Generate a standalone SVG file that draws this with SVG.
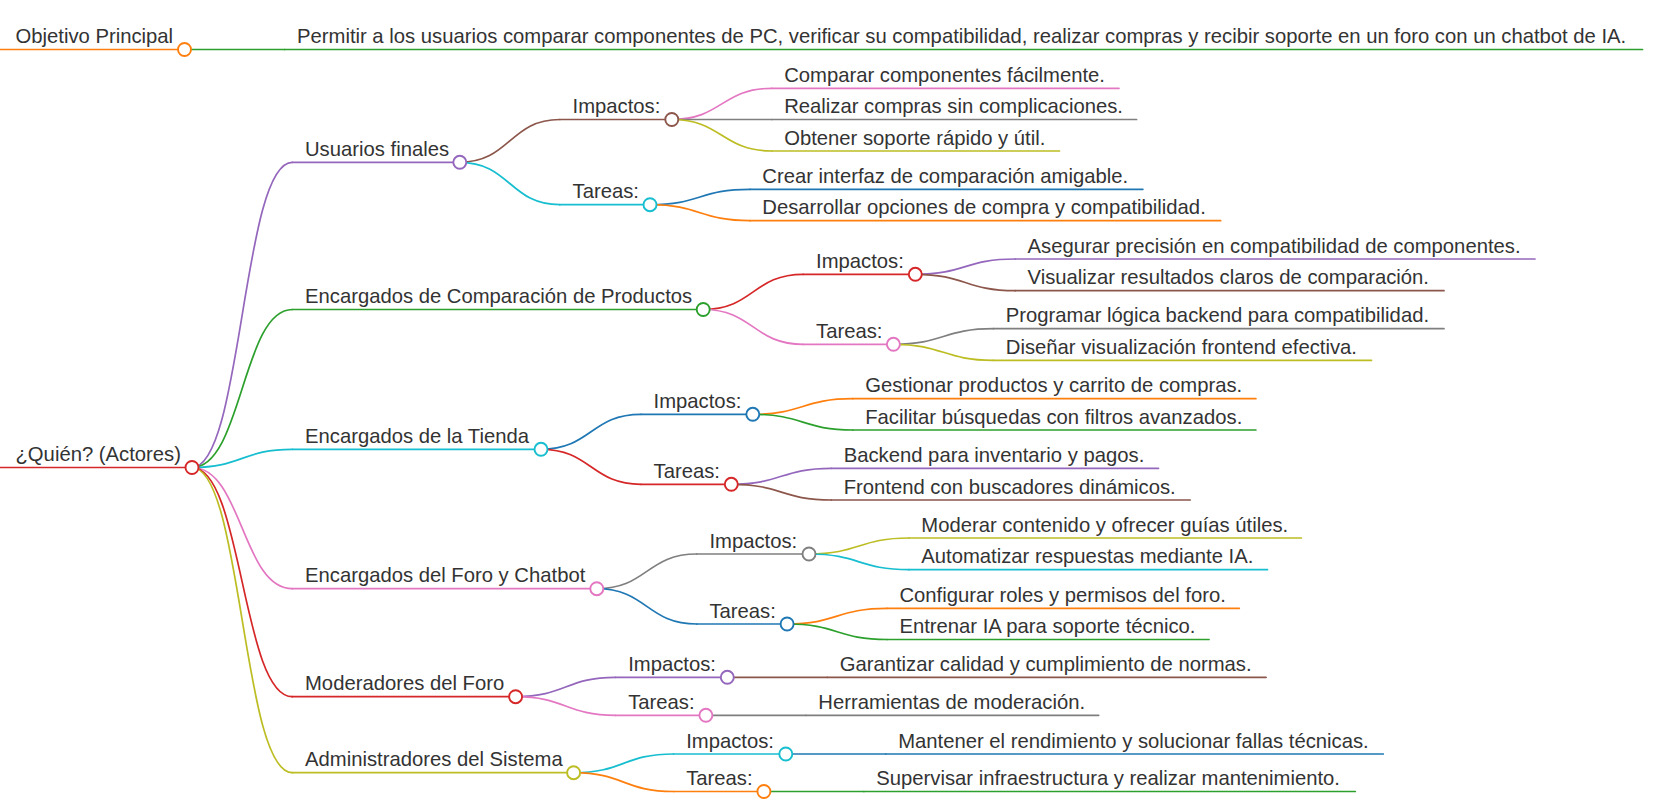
<svg xmlns="http://www.w3.org/2000/svg" width="1653" height="812" viewBox="0 0 1653 812">
<style>
text{font-family:"Liberation Sans",Arial,sans-serif;font-size:20.25px;fill:#333}
path,line{fill:none;stroke-width:1.7;stroke-linecap:round}
circle{fill:#fff;stroke-width:1.9}
.blue{stroke:#1f77b4}.orange{stroke:#ff7f0e}.green{stroke:#2ca02c}.red{stroke:#d62728}.purple{stroke:#9467bd}
.brown{stroke:#8c564b}.pink{stroke:#e377c2}.gray{stroke:#7f7f7f}.olive{stroke:#bcbd22}.cyan{stroke:#17becf}
</style>
<rect width="1653" height="812" fill="#fff"/>
<g id="connectors">
<path class="green" d="M184.5 49.5 L284.5 49.5"/>
<path class="purple" d="M192 467.5 C242.2 467.5 242.2 162.3 292.3 162.3"/>
<path class="green" d="M192 467.5 C242.2 467.5 242.2 309.5 292.3 309.5"/>
<path class="cyan" d="M192 467.5 C242.2 467.5 242.2 449.3 292.3 449.3"/>
<path class="pink" d="M192 467.5 C242.2 467.5 242.2 588.7 292.3 588.7"/>
<path class="red" d="M192 467.5 C242.2 467.5 242.2 696.7 292.3 696.7"/>
<path class="olive" d="M192 467.5 C242.2 467.5 242.2 772.7 292.3 772.7"/>
<path class="brown" d="M459.8 162.3 C509.8 162.3 509.8 119.5 559.8 119.5"/>
<path class="cyan" d="M459.8 162.3 C509.8 162.3 509.8 204.7 559.8 204.7"/>
<path class="red" d="M703.2 309.5 C753.2 309.5 753.2 274.3 803.2 274.3"/>
<path class="pink" d="M703.2 309.5 C753.2 309.5 753.2 344.3 803.2 344.3"/>
<path class="blue" d="M541 449.3 C591 449.3 591 414.3 641 414.3"/>
<path class="red" d="M541 449.3 C591 449.3 591 484.3 641 484.3"/>
<path class="gray" d="M596.8 588.7 C646.8 588.7 646.8 554 696.8 554"/>
<path class="blue" d="M596.8 588.7 C646.8 588.7 646.8 624 696.8 624"/>
<path class="purple" d="M515.6 696.7 C565.6 696.7 565.6 677.3 615.6 677.3"/>
<path class="pink" d="M515.6 696.7 C565.6 696.7 565.6 715.3 615.6 715.3"/>
<path class="cyan" d="M573.6 772.7 C623.6 772.7 623.6 754 673.6 754"/>
<path class="orange" d="M573.6 772.7 C623.6 772.7 623.6 791.5 673.6 791.5"/>
<path class="pink" d="M671.8 119.5 C721.8 119.5 721.8 88.3 771.8 88.3"/>
<path class="gray" d="M671.8 119.5 L771.8 119.5"/>
<path class="olive" d="M671.8 119.5 C721.8 119.5 721.8 151 771.8 151"/>
<path class="blue" d="M650 204.7 C700 204.7 700 189.3 750 189.3"/>
<path class="orange" d="M650 204.7 C700 204.7 700 220.7 750 220.7"/>
<path class="purple" d="M915.3 274.3 C965.3 274.3 965.3 259 1015.3 259"/>
<path class="brown" d="M915.3 274.3 C965.3 274.3 965.3 290.7 1015.3 290.7"/>
<path class="gray" d="M893.4 344.3 C943.4 344.3 943.4 328.7 993.4 328.7"/>
<path class="olive" d="M893.4 344.3 C943.4 344.3 943.4 360.3 993.4 360.3"/>
<path class="orange" d="M752.8 414.3 C802.8 414.3 802.8 398.7 852.8 398.7"/>
<path class="green" d="M752.8 414.3 C802.8 414.3 802.8 430 852.8 430"/>
<path class="purple" d="M731.3 484.3 C781.3 484.3 781.3 468.3 831.3 468.3"/>
<path class="brown" d="M731.3 484.3 C781.3 484.3 781.3 500 831.3 500"/>
<path class="olive" d="M809 554 C859 554 859 538 909 538"/>
<path class="cyan" d="M809 554 C859 554 859 569.7 909 569.7"/>
<path class="orange" d="M787.1 624 C837.1 624 837.1 608.3 887.1 608.3"/>
<path class="green" d="M787.1 624 C837.1 624 837.1 639.5 887.1 639.5"/>
<path class="brown" d="M727.3 677.3 L827.3 677.3"/>
<path class="gray" d="M705.9 715.3 L805.9 715.3"/>
<path class="blue" d="M785.8 754 L885.8 754"/>
<path class="green" d="M763.9 791.5 L863.9 791.5"/>
</g>
<g id="objetivo"><line class="orange" x1="0" y1="49.5" x2="184.5" y2="49.5"/><circle class="orange" cx="184.5" cy="49.5" r="6.5"/><text x="15.5" y="43">Objetivo Principal</text></g>
<g id="permitir"><line class="green" x1="284.5" y1="49.5" x2="1642.5" y2="49.5"/><text x="297" y="43">Permitir a los usuarios comparar componentes de PC, verificar su compatibilidad, realizar compras y recibir soporte en un foro con un chatbot de IA.</text></g>
<g id="quien"><line class="red" x1="0" y1="467.5" x2="192" y2="467.5"/><circle class="red" cx="192" cy="467.5" r="6.5"/><text x="15.5" y="461">¿Quién? (Actores)</text></g>
<g id="usuarios"><line class="purple" x1="292.3" y1="162.3" x2="459.8" y2="162.3"/><circle class="purple" cx="459.8" cy="162.3" r="6.5"/><text x="305" y="156">Usuarios finales</text></g>
<g id="u-impactos"><line class="brown" x1="559.8" y1="119.5" x2="671.8" y2="119.5"/><circle class="brown" cx="671.8" cy="119.5" r="6.5"/><text x="572.5" y="113">Impactos:</text></g>
<g id="u-i-1"><line class="pink" x1="771.8" y1="88.3" x2="1119" y2="88.3"/><text x="784.2" y="81.8">Comparar componentes fácilmente.</text></g>
<g id="u-i-2"><line class="gray" x1="771.8" y1="119.5" x2="1136.6" y2="119.5"/><text x="784.2" y="113">Realizar compras sin complicaciones.</text></g>
<g id="u-i-3"><line class="olive" x1="771.8" y1="151" x2="1059.5" y2="151"/><text x="784.2" y="144.5">Obtener soporte rápido y útil.</text></g>
<g id="u-tareas"><line class="cyan" x1="559.8" y1="204.7" x2="650" y2="204.7"/><circle class="cyan" cx="650" cy="204.7" r="6.5"/><text x="572.5" y="198.2">Tareas:</text></g>
<g id="u-t-1"><line class="blue" x1="750" y1="189.3" x2="1142.9" y2="189.3"/><text x="762.3" y="182.8">Crear interfaz de comparación amigable.</text></g>
<g id="u-t-2"><line class="orange" x1="750" y1="220.7" x2="1220.7" y2="220.7"/><text x="762.3" y="214.2">Desarrollar opciones de compra y compatibilidad.</text></g>
<g id="comparacion"><line class="green" x1="292.3" y1="309.5" x2="703.2" y2="309.5"/><circle class="green" cx="703.2" cy="309.5" r="6.5"/><text x="305" y="303">Encargados de Comparación de Productos</text></g>
<g id="c-impactos"><line class="red" x1="803.2" y1="274.3" x2="915.3" y2="274.3"/><circle class="red" cx="915.3" cy="274.3" r="6.5"/><text x="816" y="267.8">Impactos:</text></g>
<g id="c-i-1"><line class="purple" x1="1015.3" y1="259" x2="1535" y2="259"/><text x="1027.5" y="252.5">Asegurar precisión en compatibilidad de componentes.</text></g>
<g id="c-i-2"><line class="brown" x1="1015.3" y1="290.7" x2="1444" y2="290.7"/><text x="1027.5" y="284.2">Visualizar resultados claros de comparación.</text></g>
<g id="c-tareas"><line class="pink" x1="803.2" y1="344.3" x2="893.4" y2="344.3"/><circle class="pink" cx="893.4" cy="344.3" r="6.5"/><text x="816" y="337.8">Tareas:</text></g>
<g id="c-t-1"><line class="gray" x1="993.4" y1="328.7" x2="1444" y2="328.7"/><text x="1005.8" y="322.2">Programar lógica backend para compatibilidad.</text></g>
<g id="c-t-2"><line class="olive" x1="993.4" y1="360.3" x2="1371.5" y2="360.3"/><text x="1005.8" y="353.8">Diseñar visualización frontend efectiva.</text></g>
<g id="tienda"><line class="cyan" x1="292.3" y1="449.3" x2="541" y2="449.3"/><circle class="cyan" cx="541" cy="449.3" r="6.5"/><text x="305" y="442.8">Encargados de la Tienda</text></g>
<g id="t-impactos"><line class="blue" x1="641" y1="414.3" x2="752.8" y2="414.3"/><circle class="blue" cx="752.8" cy="414.3" r="6.5"/><text x="653.6" y="407.8">Impactos:</text></g>
<g id="t-i-1"><line class="orange" x1="852.8" y1="398.7" x2="1255.9" y2="398.7"/><text x="865.2" y="392.2">Gestionar productos y carrito de compras.</text></g>
<g id="t-i-2"><line class="green" x1="852.8" y1="430" x2="1255.9" y2="430"/><text x="865.2" y="423.5">Facilitar búsquedas con filtros avanzados.</text></g>
<g id="t-tareas"><line class="red" x1="641" y1="484.3" x2="731.3" y2="484.3"/><circle class="red" cx="731.3" cy="484.3" r="6.5"/><text x="653.6" y="477.8">Tareas:</text></g>
<g id="t-t-1"><line class="purple" x1="831.3" y1="468.3" x2="1158.5" y2="468.3"/><text x="843.7" y="461.8">Backend para inventario y pagos.</text></g>
<g id="t-t-2"><line class="brown" x1="831.3" y1="500" x2="1190.2" y2="500"/><text x="843.7" y="493.5">Frontend con buscadores dinámicos.</text></g>
<g id="foro"><line class="pink" x1="292.3" y1="588.7" x2="596.8" y2="588.7"/><circle class="pink" cx="596.8" cy="588.7" r="6.5"/><text x="305" y="582.2">Encargados del Foro y Chatbot</text></g>
<g id="f-impactos"><line class="gray" x1="696.8" y1="554" x2="809" y2="554"/><circle class="gray" cx="809" cy="554" r="6.5"/><text x="709.4" y="547.5">Impactos:</text></g>
<g id="f-i-1"><line class="olive" x1="909" y1="538" x2="1301.4" y2="538"/><text x="921.3" y="531.5">Moderar contenido y ofrecer guías útiles.</text></g>
<g id="f-i-2"><line class="cyan" x1="909" y1="569.7" x2="1267.5" y2="569.7"/><text x="921.3" y="563.2">Automatizar respuestas mediante IA.</text></g>
<g id="f-tareas"><line class="blue" x1="696.8" y1="624" x2="787.1" y2="624"/><circle class="blue" cx="787.1" cy="624" r="6.5"/><text x="709.4" y="617.5">Tareas:</text></g>
<g id="f-t-1"><line class="orange" x1="887.1" y1="608.3" x2="1239.3" y2="608.3"/><text x="899.4" y="601.8">Configurar roles y permisos del foro.</text></g>
<g id="f-t-2"><line class="green" x1="887.1" y1="639.5" x2="1209" y2="639.5"/><text x="899.4" y="633">Entrenar IA para soporte técnico.</text></g>
<g id="moderadores"><line class="red" x1="292.3" y1="696.7" x2="515.6" y2="696.7"/><circle class="red" cx="515.6" cy="696.7" r="6.5"/><text x="305" y="690.2">Moderadores del Foro</text></g>
<g id="m-impactos"><line class="purple" x1="615.6" y1="677.3" x2="727.3" y2="677.3"/><circle class="purple" cx="727.3" cy="677.3" r="6.5"/><text x="628.2" y="670.8">Impactos:</text></g>
<g id="m-i-1"><line class="brown" x1="827.3" y1="677.3" x2="1266.1" y2="677.3"/><text x="839.7" y="670.8">Garantizar calidad y cumplimiento de normas.</text></g>
<g id="m-tareas"><line class="pink" x1="615.6" y1="715.3" x2="705.9" y2="715.3"/><circle class="pink" cx="705.9" cy="715.3" r="6.5"/><text x="628.2" y="708.8">Tareas:</text></g>
<g id="m-t-1"><line class="gray" x1="805.9" y1="715.3" x2="1098.7" y2="715.3"/><text x="818.3" y="708.8">Herramientas de moderación.</text></g>
<g id="admin"><line class="olive" x1="292.3" y1="772.7" x2="573.6" y2="772.7"/><circle class="olive" cx="573.6" cy="772.7" r="6.5"/><text x="305" y="766.2">Administradores del Sistema</text></g>
<g id="a-impactos"><line class="cyan" x1="673.6" y1="754" x2="785.8" y2="754"/><circle class="cyan" cx="785.8" cy="754" r="6.5"/><text x="686.2" y="747.5">Impactos:</text></g>
<g id="a-i-1"><line class="blue" x1="885.8" y1="754" x2="1383.3" y2="754"/><text x="898.2" y="747.5">Mantener el rendimiento y solucionar fallas técnicas.</text></g>
<g id="a-tareas"><line class="orange" x1="673.6" y1="791.5" x2="763.9" y2="791.5"/><circle class="orange" cx="763.9" cy="791.5" r="6.5"/><text x="686.2" y="785">Tareas:</text></g>
<g id="a-t-1"><line class="green" x1="863.9" y1="791.5" x2="1355.3" y2="791.5"/><text x="876.3" y="785">Supervisar infraestructura y realizar mantenimiento.</text></g>
</svg>
